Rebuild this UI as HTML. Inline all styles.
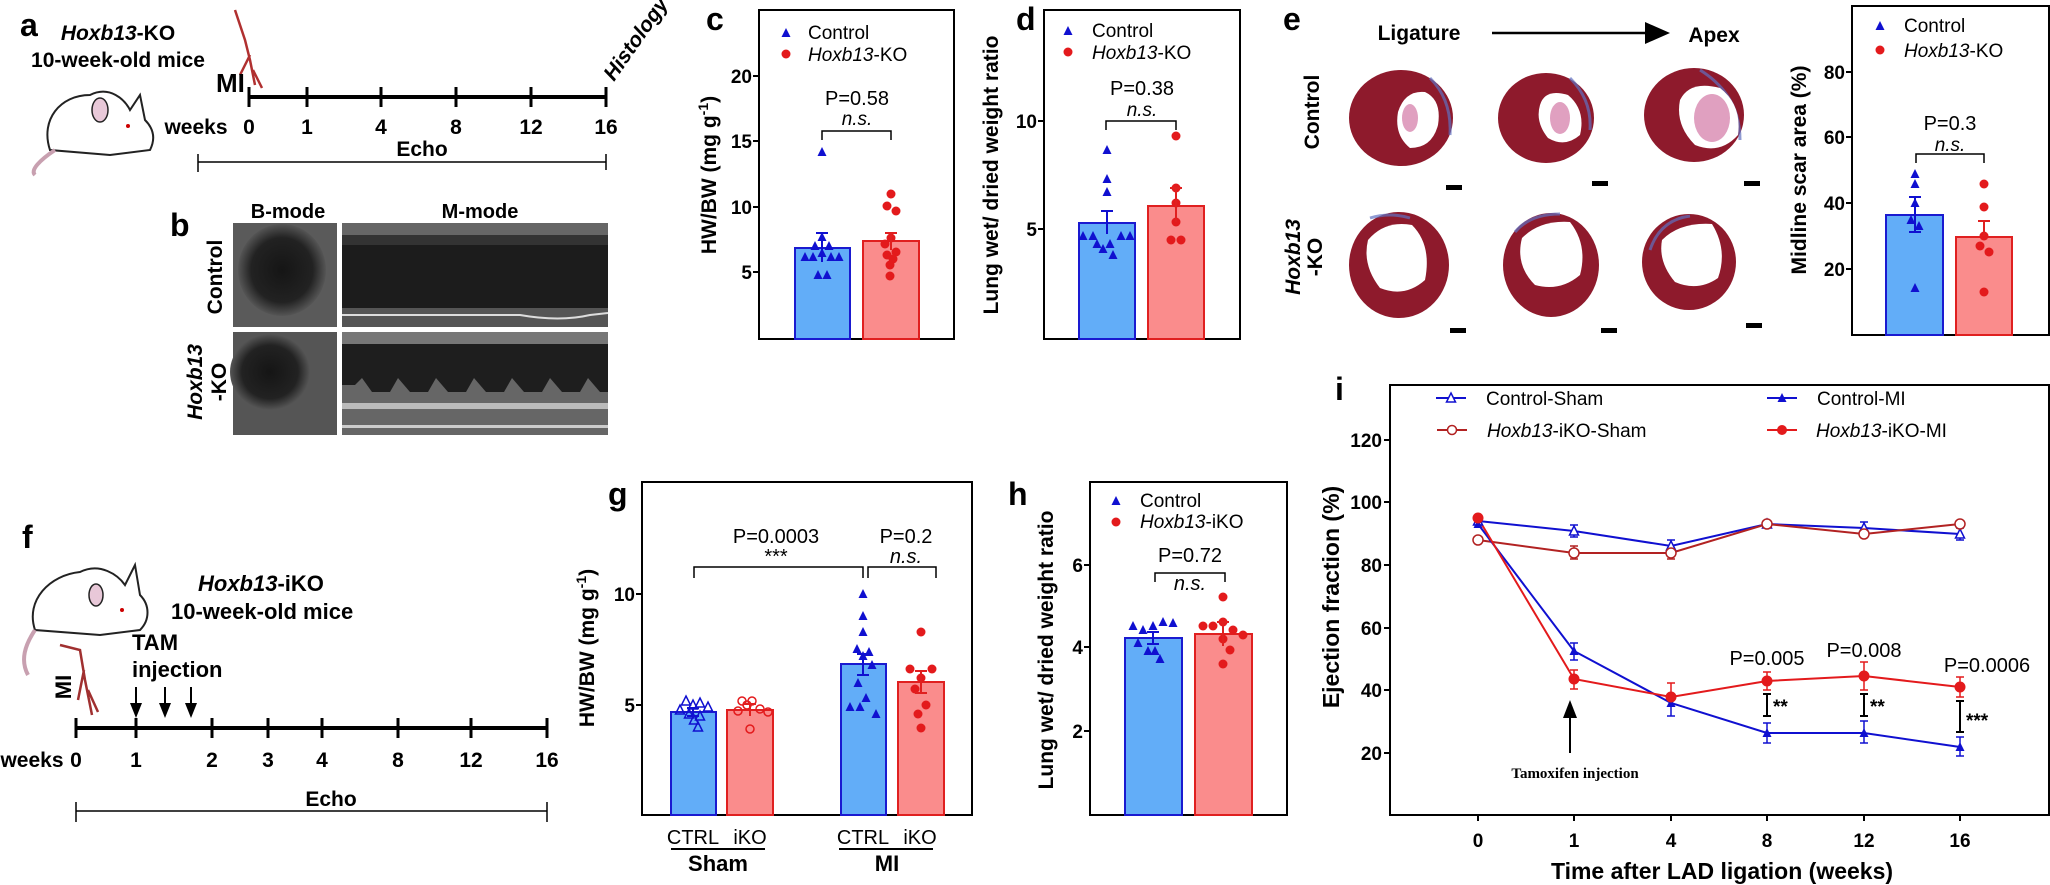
<!DOCTYPE html>
<html><head><meta charset="utf-8"><style>
html,body{margin:0;padding:0;background:#fff}
svg{display:block}
.t{font-family:"Liberation Sans Narrow","Liberation Sans",sans-serif;font-weight:bold;font-size:19px}
.n{font-family:"Liberation Sans Narrow","Liberation Sans",sans-serif;font-size:20px}
.lab{font-family:"Liberation Sans",sans-serif;font-weight:bold;font-size:21px}
.big{font-family:"Liberation Sans",sans-serif;font-weight:bold;font-size:32px}
.leg{font-family:"Liberation Sans",sans-serif;font-size:19px}
</style></head><body>
<svg width="2050" height="885" viewBox="0 0 2050 885" xmlns="http://www.w3.org/2000/svg">
<defs>
<path id="tr" d="M0,-5 L4.5,4 L-4.5,4Z"/>
<radialGradient id="bm"><stop offset="0" stop-color="#151515"/><stop offset="0.7" stop-color="#222"/><stop offset="1" stop-color="#555"/></radialGradient>
</defs>
<rect width="2050" height="885" fill="#fff"/>

<!-- Panel a -->
<text x="20" y="36" class="big">a</text>
<text x="118" y="40" class="lab" text-anchor="middle"><tspan font-style="italic">Hoxb13</tspan>-KO</text>
<text x="118" y="67" class="lab" text-anchor="middle">10-week-old mice</text>
<g fill="#fff" stroke="#222" stroke-width="2">
<path d="M50,150 C40,120 60,95 90,95 C110,85 125,100 130,110 L140,95 L145,120 C155,130 155,140 150,150 L110,155 Z"/>
</g>
<path d="M55,150 C40,160 30,170 35,175" fill="none" stroke="#c8a0b0" stroke-width="4"/>
<ellipse cx="100" cy="110" rx="8" ry="12" fill="#e8c8d8" stroke="#222" stroke-width="1.5"/>
<circle cx="128" cy="126" r="2" fill="#c00"/>
<path d="M235,10 L245,40 L250,60 L255,85 M250,55 L240,75 M253,70 L262,88" stroke="#b03030" stroke-width="2.5" fill="none"/>
<text x="216" y="92" class="lab" style="font-size:26px">MI</text>
<line x1="249" y1="97" x2="606" y2="97" stroke="#000" stroke-width="4"/>
<g stroke="#000" stroke-width="3">
<line x1="249" y1="87" x2="249" y2="107"/><line x1="307" y1="87" x2="307" y2="107"/><line x1="381" y1="87" x2="381" y2="107"/><line x1="456" y1="87" x2="456" y2="107"/><line x1="531" y1="87" x2="531" y2="107"/><line x1="606" y1="87" x2="606" y2="107"/>
</g>
<g class="t" text-anchor="middle" style="font-size:21px">
<text x="196" y="134">weeks</text><text x="249" y="134">0</text><text x="307" y="134">1</text><text x="381" y="134">4</text><text x="456" y="134">8</text><text x="531" y="134">12</text><text x="606" y="134">16</text>
<text x="422" y="156">Echo</text>
</g>
<text transform="translate(614,82) rotate(-55)" class="t" style="font-size:21px;font-style:italic">Histology</text>
<g stroke="#000" stroke-width="1.5"><line x1="198" y1="162" x2="606" y2="162"/><line x1="198" y1="154" x2="198" y2="172"/><line x1="606" y1="154" x2="606" y2="170"/></g>

<!-- Panel b -->
<text x="170" y="236" class="big">b</text>
<text x="288" y="218" class="t" text-anchor="middle" style="font-size:20px">B-mode</text>
<text x="480" y="218" class="t" text-anchor="middle" style="font-size:20px">M-mode</text>
<rect x="233" y="223" width="104" height="104" fill="#5a5a5a"/>
<ellipse cx="282" cy="270" rx="44" ry="46" fill="url(#bm)"/>
<rect x="342" y="223" width="266" height="104" fill="#1c1c1c"/>
<rect x="342" y="223" width="266" height="12" fill="#666"/>
<rect x="342" y="235" width="266" height="10" fill="#333"/>
<rect x="342" y="308" width="266" height="19" fill="#555"/>
<path d="M342,315 L520,315 Q560,322 590,315 L608,313" stroke="#ddd" stroke-width="2" fill="none"/>
<rect x="233" y="332" width="104" height="103" fill="#555"/>
<ellipse cx="270" cy="372" rx="40" ry="38" fill="url(#bm)"/>
<rect x="342" y="332" width="266" height="103" fill="#1e1e1e"/>
<rect x="342" y="332" width="266" height="12" fill="#777"/>
<path d="M342,385 L355,385 L362,378 L372,392 L390,392 L398,378 L410,392 L428,392 L436,378 L448,392 L466,392 L474,378 L486,392 L504,392 L512,378 L524,392 L542,392 L550,378 L562,392 L580,392 L588,378 L600,392 L608,392 L608,435 L342,435Z" fill="#666"/>
<rect x="342" y="403" width="266" height="6" fill="#bbb"/>
<rect x="342" y="425" width="266" height="3" fill="#ccc"/>
<text transform="translate(222,277) rotate(-90)" class="lab" text-anchor="middle">Control</text>
<text transform="translate(202,382) rotate(-90)" class="lab" text-anchor="middle" font-style="italic">Hoxb13</text>
<text transform="translate(226,382) rotate(-90)" class="lab" text-anchor="middle">-KO</text>

<!-- Panel c -->
<text x="706" y="30" class="big">c</text>
<rect x="759" y="10" width="195" height="329" fill="none" stroke="#000" stroke-width="2"/>
<g stroke="#000" stroke-width="2"><line x1="753" y1="76" x2="759" y2="76"/><line x1="753" y1="141" x2="759" y2="141"/><line x1="753" y1="207" x2="759" y2="207"/><line x1="753" y1="272" x2="759" y2="272"/></g>
<g class="t" text-anchor="end"><text x="752" y="83">20</text><text x="752" y="148">15</text><text x="752" y="214">10</text><text x="752" y="279">5</text></g>
<text transform="translate(716,175) rotate(-90)" class="lab" text-anchor="middle">HW/BW (mg g<tspan dy="-8" font-size="14">-1</tspan><tspan dy="8">)</tspan></text>
<rect x="795" y="248" width="55" height="91" fill="#62adf8" stroke="#1a1ad0" stroke-width="2"/>
<rect x="863" y="241" width="56" height="98" fill="#fa8c8c" stroke="#e02020" stroke-width="2"/>
<g fill="#1010d0"><use href="#tr" x="786" y="33"/>
<use href="#tr" x="822" y="152"/><use href="#tr" x="822" y="237"/><use href="#tr" x="815" y="246"/><use href="#tr" x="829" y="246"/><use href="#tr" x="822" y="253"/><use href="#tr" x="805" y="257"/><use href="#tr" x="813" y="257"/><use href="#tr" x="831" y="257"/><use href="#tr" x="839" y="257"/><use href="#tr" x="818" y="275"/><use href="#tr" x="827" y="275"/></g>
<g stroke="#1010d0" stroke-width="2"><line x1="822" y1="233" x2="822" y2="262"/><line x1="816" y1="233" x2="828" y2="233"/></g>
<g fill="#e31a1c"><circle cx="786" cy="54" r="4.5"/>
<circle cx="891" cy="194" r="4.5"/><circle cx="887" cy="206" r="4.5"/><circle cx="896" cy="211" r="4.5"/><circle cx="891" cy="238" r="4.5"/><circle cx="885" cy="244" r="4.5"/><circle cx="896" cy="252" r="4.5"/><circle cx="887" cy="255" r="4.5"/><circle cx="893" cy="259" r="4.5"/><circle cx="890" cy="265" r="4.5"/><circle cx="890" cy="276" r="4.5"/></g>
<g stroke="#e02020" stroke-width="2"><line x1="891" y1="233" x2="891" y2="250"/><line x1="885" y1="233" x2="897" y2="233"/></g>
<text x="808" y="39" class="leg">Control</text>
<text x="808" y="61" class="leg"><tspan font-style="italic">Hoxb13</tspan>-KO</text>
<text x="857" y="105" class="leg" text-anchor="middle" style="font-size:20px">P=0.58</text>
<text x="857" y="125" class="leg" text-anchor="middle" font-style="italic">n.s.</text>
<path d="M822,140 V131 H891 V140" fill="none" stroke="#000" stroke-width="1.5"/>

<!-- Panel d -->
<text x="1016" y="30" class="big">d</text>
<rect x="1044" y="10" width="196" height="329" fill="none" stroke="#000" stroke-width="2"/>
<g stroke="#000" stroke-width="2"><line x1="1038" y1="121" x2="1044" y2="121"/><line x1="1038" y1="229" x2="1044" y2="229"/></g>
<g class="t" text-anchor="end"><text x="1037" y="128">10</text><text x="1037" y="236">5</text></g>
<text transform="translate(998,175) rotate(-90)" class="lab" text-anchor="middle">Lung wet/ dried weight ratio</text>
<rect x="1079" y="223" width="56" height="116" fill="#62adf8" stroke="#1a1ad0" stroke-width="2"/>
<rect x="1148" y="206" width="56" height="133" fill="#fa8c8c" stroke="#e02020" stroke-width="2"/>
<g fill="#1010d0"><use href="#tr" x="1068" y="31"/>
<use href="#tr" x="1107" y="150"/><use href="#tr" x="1107" y="179"/><use href="#tr" x="1107" y="192"/><use href="#tr" x="1083" y="236"/><use href="#tr" x="1093" y="236"/><use href="#tr" x="1121" y="236"/><use href="#tr" x="1130" y="236"/><use href="#tr" x="1097" y="244"/><use href="#tr" x="1110" y="244"/><use href="#tr" x="1103" y="249"/><use href="#tr" x="1113" y="255"/></g>
<g stroke="#1010d0" stroke-width="2"><line x1="1107" y1="211" x2="1107" y2="234"/><line x1="1101" y1="211" x2="1113" y2="211"/></g>
<g fill="#e31a1c"><circle cx="1068" cy="52" r="4.5"/>
<circle cx="1176" cy="136" r="4.5"/><circle cx="1176" cy="188" r="4.5"/><circle cx="1176" cy="203" r="4.5"/><circle cx="1176" cy="222" r="4.5"/><circle cx="1171" cy="240" r="4.5"/><circle cx="1181" cy="240" r="4.5"/></g>
<g stroke="#e02020" stroke-width="2"><line x1="1176" y1="188" x2="1176" y2="222"/><line x1="1170" y1="188" x2="1182" y2="188"/></g>
<text x="1092" y="37" class="leg">Control</text>
<text x="1092" y="59" class="leg"><tspan font-style="italic">Hoxb13</tspan>-KO</text>
<text x="1142" y="95" class="leg" text-anchor="middle" style="font-size:20px">P=0.38</text>
<text x="1142" y="116" class="leg" text-anchor="middle" font-style="italic">n.s.</text>
<path d="M1106,130 V121 H1176 V130" fill="none" stroke="#000" stroke-width="1.5"/>

<!-- Panel e -->
<text x="1283" y="30" class="big">e</text>
<text x="1419" y="40" class="lab" text-anchor="middle">Ligature</text>
<line x1="1492" y1="33" x2="1650" y2="33" stroke="#000" stroke-width="2.5"/>
<path d="M1645,22 L1670,33 L1645,44 Z" fill="#000"/>
<text x="1714" y="42" class="lab" text-anchor="middle">Apex</text>
<text transform="translate(1319,112) rotate(-90)" class="lab" text-anchor="middle">Control</text>
<text transform="translate(1300,257) rotate(-90)" class="lab" text-anchor="middle" font-style="italic">Hoxb13</text>
<text transform="translate(1322,257) rotate(-90)" class="lab" text-anchor="middle">-KO</text>
<g fill="#8e1a2c">
<ellipse cx="1401" cy="118" rx="52" ry="48"/><ellipse cx="1546" cy="118" rx="48" ry="45"/><ellipse cx="1694" cy="115" rx="50" ry="47"/>
<ellipse cx="1399" cy="265" rx="50" ry="53"/><ellipse cx="1551" cy="265" rx="48" ry="52"/><ellipse cx="1689" cy="262" rx="47" ry="48"/>
</g>
<g fill="none" stroke="#6070c0" stroke-width="3" opacity="0.7">
<path d="M1430,78 Q1452,100 1450,135"/><path d="M1570,78 Q1592,100 1590,130"/><path d="M1700,70 Q1740,95 1740,140"/>
<path d="M1370,218 Q1390,212 1410,218"/><path d="M1515,232 Q1530,214 1560,214"/><path d="M1650,250 Q1660,220 1690,216"/>
</g>
<g fill="#fff">
<path d="M1398,112 Q1405,90 1425,92 Q1442,100 1438,125 Q1432,148 1410,148 Q1394,135 1398,112Z"/>
<path d="M1540,105 Q1545,88 1568,95 Q1586,110 1580,135 Q1565,148 1548,138 Q1535,122 1540,105Z"/>
<path d="M1680,100 Q1690,80 1720,88 Q1742,105 1738,135 Q1720,155 1695,145 Q1675,125 1680,100Z"/>
<path d="M1368,240 Q1385,220 1412,225 Q1432,245 1425,280 Q1405,298 1380,288 Q1362,265 1368,240Z"/>
<path d="M1522,238 Q1540,220 1570,222 Q1588,245 1580,275 Q1560,292 1535,285 Q1515,265 1522,238Z"/>
<path d="M1662,240 Q1680,222 1712,224 Q1728,250 1718,278 Q1698,292 1675,282 Q1658,262 1662,240Z"/>
</g>
<g fill="#e0a0c0"><ellipse cx="1410" cy="118" rx="8" ry="14"/><ellipse cx="1560" cy="118" rx="10" ry="16"/><ellipse cx="1712" cy="118" rx="18" ry="24"/></g>
<g fill="#000"><rect x="1446" y="185" width="16" height="5"/><rect x="1592" y="181" width="16" height="5"/><rect x="1744" y="181" width="16" height="5"/><rect x="1450" y="328" width="16" height="5"/><rect x="1601" y="328" width="16" height="5"/><rect x="1746" y="323" width="16" height="5"/></g>
<!-- e chart -->
<rect x="1852" y="6" width="197" height="329" fill="none" stroke="#000" stroke-width="2"/>
<g stroke="#000" stroke-width="2"><line x1="1846" y1="72" x2="1852" y2="72"/><line x1="1846" y1="137" x2="1852" y2="137"/><line x1="1846" y1="203" x2="1852" y2="203"/><line x1="1846" y1="269" x2="1852" y2="269"/></g>
<g class="t" text-anchor="end"><text x="1845" y="79">80</text><text x="1845" y="144">60</text><text x="1845" y="210">40</text><text x="1845" y="276">20</text></g>
<text transform="translate(1806,170) rotate(-90)" class="lab" text-anchor="middle">Midline scar area (%)</text>
<rect x="1886" y="215" width="57" height="120" fill="#62adf8" stroke="#1a1ad0" stroke-width="2"/>
<rect x="1956" y="237" width="56" height="98" fill="#fa8c8c" stroke="#e02020" stroke-width="2"/>
<g fill="#1010d0"><use href="#tr" x="1880" y="26"/>
<use href="#tr" x="1915" y="174"/><use href="#tr" x="1915" y="184"/><use href="#tr" x="1915" y="203"/><use href="#tr" x="1911" y="220"/><use href="#tr" x="1919" y="226"/><use href="#tr" x="1915" y="288"/></g>
<g stroke="#1010d0" stroke-width="2"><line x1="1915" y1="197" x2="1915" y2="232"/><line x1="1909" y1="197" x2="1921" y2="197"/><line x1="1909" y1="232" x2="1921" y2="232"/></g>
<g fill="#e31a1c"><circle cx="1880" cy="50" r="4.5"/>
<circle cx="1984" cy="184" r="4.5"/><circle cx="1984" cy="207" r="4.5"/><circle cx="1984" cy="236" r="4.5"/><circle cx="1980" cy="246" r="4.5"/><circle cx="1989" cy="252" r="4.5"/><circle cx="1984" cy="292" r="4.5"/></g>
<g stroke="#e02020" stroke-width="2"><line x1="1984" y1="221" x2="1984" y2="236"/><line x1="1978" y1="221" x2="1990" y2="221"/></g>
<text x="1904" y="32" class="leg">Control</text>
<text x="1904" y="57" class="leg"><tspan font-style="italic">Hoxb13</tspan>-KO</text>
<text x="1950" y="130" class="leg" text-anchor="middle" style="font-size:20px">P=0.3</text>
<text x="1950" y="151" class="leg" text-anchor="middle" font-style="italic">n.s.</text>
<path d="M1916,163 V154 H1984 V163" fill="none" stroke="#000" stroke-width="1.5"/>

<!-- Panel f -->
<text x="22" y="548" class="big">f</text>
<g fill="#fff" stroke="#222" stroke-width="2">
<path d="M35,630 C25,600 50,575 80,572 C100,562 118,575 125,585 L135,565 L140,595 C150,605 150,620 140,630 L100,635 Z"/>
</g>
<path d="M35,630 C25,645 20,660 28,675" fill="none" stroke="#c8a0b0" stroke-width="4"/>
<ellipse cx="96" cy="595" rx="7" ry="11" fill="#e8c8d8" stroke="#222" stroke-width="1.5"/>
<circle cx="122" cy="610" r="2" fill="#c00"/>
<path d="M60,645 L80,650 L85,680 L92,715 M84,670 L78,700 M88,690 L98,712" stroke="#a03030" stroke-width="2.5" fill="none"/>
<text x="198" y="591" class="t" style="font-size:22px;font-style:italic">Hoxb13<tspan font-style="normal">-iKO</tspan></text>
<text x="171" y="619" class="t" style="font-size:22px">10-week-old mice</text>
<text x="132" y="650" class="t" style="font-size:22px">TAM</text>
<text x="132" y="677" class="t" style="font-size:22px">injection</text>
<text transform="translate(71,687) rotate(-90)" class="t" text-anchor="middle" style="font-size:22px">MI</text>
<g stroke="#000" stroke-width="2"><line x1="136" y1="687" x2="136" y2="705"/><line x1="165" y1="687" x2="165" y2="705"/><line x1="191" y1="687" x2="191" y2="705"/></g>
<g fill="#000"><path d="M130,703 L142,703 L136,718Z"/><path d="M159,703 L171,703 L165,718Z"/><path d="M185,703 L197,703 L191,718Z"/></g>
<line x1="76" y1="728" x2="547" y2="728" stroke="#000" stroke-width="4"/>
<g stroke="#000" stroke-width="3"><line x1="76" y1="718" x2="76" y2="738"/><line x1="136" y1="718" x2="136" y2="738"/><line x1="212" y1="718" x2="212" y2="738"/><line x1="268" y1="718" x2="268" y2="738"/><line x1="322" y1="718" x2="322" y2="738"/><line x1="398" y1="718" x2="398" y2="738"/><line x1="471" y1="718" x2="471" y2="738"/><line x1="547" y1="718" x2="547" y2="738"/></g>
<g class="t" text-anchor="middle" style="font-size:21px"><text x="32" y="767">weeks</text><text x="76" y="767">0</text><text x="136" y="767">1</text><text x="212" y="767">2</text><text x="268" y="767">3</text><text x="322" y="767">4</text><text x="398" y="767">8</text><text x="471" y="767">12</text><text x="547" y="767">16</text>
<text x="331" y="806">Echo</text></g>
<g stroke="#000" stroke-width="1.5"><line x1="76" y1="811" x2="547" y2="811"/><line x1="76" y1="802" x2="76" y2="822"/><line x1="547" y1="802" x2="547" y2="822"/></g>

<!-- Panel g -->
<text x="608" y="505" class="big">g</text>
<rect x="642" y="482" width="330" height="333" fill="none" stroke="#000" stroke-width="2"/>
<g stroke="#000" stroke-width="2"><line x1="636" y1="594" x2="642" y2="594"/><line x1="636" y1="705" x2="642" y2="705"/></g>
<g class="t" text-anchor="end"><text x="635" y="601">10</text><text x="635" y="712">5</text></g>
<text transform="translate(594,648) rotate(-90)" class="lab" text-anchor="middle">HW/BW (mg g<tspan dy="-8" font-size="14">-1</tspan><tspan dy="8">)</tspan></text>
<rect x="671" y="712" width="45" height="103" fill="#62adf8" stroke="#1a1ad0" stroke-width="2"/>
<rect x="727" y="710" width="46" height="105" fill="#fa8c8c" stroke="#e02020" stroke-width="2"/>
<rect x="841" y="664" width="45" height="151" fill="#62adf8" stroke="#1a1ad0" stroke-width="2"/>
<rect x="898" y="682" width="46" height="133" fill="#fa8c8c" stroke="#e02020" stroke-width="2"/>
<g fill="none" stroke="#1010d0" stroke-width="1.5">
<use href="#tr" x="686" y="701"/><use href="#tr" x="700" y="703"/><use href="#tr" x="693" y="705"/><use href="#tr" x="708" y="707"/><use href="#tr" x="680" y="710"/><use href="#tr" x="689" y="714"/><use href="#tr" x="700" y="716"/><use href="#tr" x="694" y="720"/><use href="#tr" x="698" y="727"/></g>
<g fill="none" stroke="#e31a1c" stroke-width="1.5">
<circle cx="742" cy="701" r="4"/><circle cx="752" cy="701" r="4"/><circle cx="747" cy="705" r="4"/><circle cx="760" cy="709" r="4"/><circle cx="738" cy="711" r="4"/><circle cx="768" cy="712" r="4"/><circle cx="750" cy="729" r="4"/></g>
<g fill="#1010d0"><use href="#tr" x="863" y="594"/><use href="#tr" x="863" y="616"/><use href="#tr" x="863" y="632"/><use href="#tr" x="857" y="649"/><use href="#tr" x="869" y="652"/><use href="#tr" x="863" y="656"/><use href="#tr" x="872" y="665"/><use href="#tr" x="858" y="683"/><use href="#tr" x="866" y="698"/><use href="#tr" x="850" y="707"/><use href="#tr" x="860" y="707"/><use href="#tr" x="876" y="714"/></g>
<g fill="#e31a1c"><circle cx="921" cy="632" r="4.5"/><circle cx="910" cy="669" r="4.5"/><circle cx="932" cy="669" r="4.5"/><circle cx="921" cy="678" r="4.5"/><circle cx="915" cy="689" r="4.5"/><circle cx="926" cy="705" r="4.5"/><circle cx="918" cy="714" r="4.5"/><circle cx="921" cy="728" r="4.5"/></g>
<g stroke-width="2"><path d="M693,708 V716 M687,708 H699 M687,716 H699" stroke="#1010d0"/><path d="M750,704 V716 M744,704 H756" stroke="#e02020"/>
<path d="M863,654 V675 M857,654 H869 M857,675 H869" stroke="#1010d0"/><path d="M921,671 V693 M915,671 H927 M915,693 H927" stroke="#e02020"/></g>
<text x="776" y="543" class="n" text-anchor="middle">P=0.0003</text>
<text x="776" y="563" class="n" text-anchor="middle">***</text>
<path d="M694,578 V567 H863 V578" fill="none" stroke="#000" stroke-width="1.5"/>
<text x="906" y="543" class="n" text-anchor="middle">P=0.2</text>
<text x="906" y="563" class="n" text-anchor="middle" font-style="italic">n.s.</text>
<path d="M868,578 V567 H936 V578" fill="none" stroke="#000" stroke-width="1.5"/>
<g class="n" text-anchor="middle"><text x="693" y="844">CTRL</text><text x="750" y="844">iKO</text><text x="863" y="844">CTRL</text><text x="920" y="844">iKO</text></g>
<g stroke="#000" stroke-width="2"><line x1="671" y1="849" x2="765" y2="849"/><line x1="839" y1="849" x2="933" y2="849"/></g>
<g class="t" text-anchor="middle" style="font-size:22px"><text x="718" y="871">Sham</text><text x="887" y="871">MI</text></g>

<!-- Panel h -->
<text x="1008" y="505" class="big">h</text>
<rect x="1090" y="482" width="197" height="333" fill="none" stroke="#000" stroke-width="2"/>
<g stroke="#000" stroke-width="2"><line x1="1084" y1="565" x2="1090" y2="565"/><line x1="1084" y1="647" x2="1090" y2="647"/><line x1="1084" y1="731" x2="1090" y2="731"/></g>
<g class="t" text-anchor="end"><text x="1083" y="572">6</text><text x="1083" y="654">4</text><text x="1083" y="738">2</text></g>
<text transform="translate(1053,650) rotate(-90)" class="lab" text-anchor="middle">Lung wet/ dried weight ratio</text>
<rect x="1125" y="638" width="57" height="177" fill="#62adf8" stroke="#1a1ad0" stroke-width="2"/>
<rect x="1195" y="634" width="57" height="181" fill="#fa8c8c" stroke="#e02020" stroke-width="2"/>
<g fill="#1010d0"><use href="#tr" x="1116" y="501"/>
<use href="#tr" x="1163" y="622"/><use href="#tr" x="1173" y="623"/><use href="#tr" x="1133" y="626"/><use href="#tr" x="1143" y="630"/><use href="#tr" x="1153" y="626"/><use href="#tr" x="1138" y="643"/><use href="#tr" x="1148" y="651"/><use href="#tr" x="1155" y="651"/><use href="#tr" x="1160" y="659"/></g>
<g stroke="#1010d0" stroke-width="2"><path d="M1153,632 V644 M1147,632 H1159 M1147,644 H1159"/></g>
<g fill="#e31a1c"><circle cx="1116" cy="522" r="4.5"/>
<circle cx="1223" cy="597" r="4.5"/><circle cx="1223" cy="622" r="4.5"/><circle cx="1203" cy="626" r="4.5"/><circle cx="1213" cy="626" r="4.5"/><circle cx="1233" cy="630" r="4.5"/><circle cx="1243" cy="635" r="4.5"/><circle cx="1223" cy="639" r="4.5"/><circle cx="1230" cy="650" r="4.5"/><circle cx="1223" cy="664" r="4.5"/></g>
<g stroke="#e02020" stroke-width="2"><path d="M1223,622 V646 M1217,622 H1229"/></g>
<text x="1140" y="507" class="leg">Control</text>
<text x="1140" y="528" class="leg"><tspan font-style="italic">Hoxb13</tspan>-iKO</text>
<text x="1190" y="562" class="n" text-anchor="middle">P=0.72</text>
<path d="M1155,582 V573 H1225 V582" fill="none" stroke="#000" stroke-width="1.5"/>
<text x="1190" y="590" class="n" text-anchor="middle" font-style="italic">n.s.</text>

<!-- Panel i -->
<text x="1335" y="400" class="big">i</text>
<rect x="1390" y="385" width="659" height="430" fill="none" stroke="#000" stroke-width="2"/>
<g stroke="#000" stroke-width="2"><line x1="1384" y1="440" x2="1390" y2="440"/><line x1="1384" y1="502" x2="1390" y2="502"/><line x1="1384" y1="565" x2="1390" y2="565"/><line x1="1384" y1="628" x2="1390" y2="628"/><line x1="1384" y1="690" x2="1390" y2="690"/><line x1="1384" y1="753" x2="1390" y2="753"/>
<line x1="1478" y1="815" x2="1478" y2="821"/><line x1="1574" y1="815" x2="1574" y2="821"/><line x1="1671" y1="815" x2="1671" y2="821"/><line x1="1767" y1="815" x2="1767" y2="821"/><line x1="1864" y1="815" x2="1864" y2="821"/><line x1="1960" y1="815" x2="1960" y2="821"/></g>
<g class="t" text-anchor="end"><text x="1382" y="447">120</text><text x="1382" y="509">100</text><text x="1382" y="572">80</text><text x="1382" y="635">60</text><text x="1382" y="697">40</text><text x="1382" y="760">20</text></g>
<g class="t" text-anchor="middle"><text x="1478" y="847">0</text><text x="1574" y="847">1</text><text x="1671" y="847">4</text><text x="1767" y="847">8</text><text x="1864" y="847">12</text><text x="1960" y="847">16</text></g>
<text x="1722" y="879" class="t" text-anchor="middle" style="font-size:23px">Time after LAD ligation (weeks)</text>
<text transform="translate(1339,597) rotate(-90)" class="lab" text-anchor="middle" style="font-size:23px">Ejection fraction (%)</text>
<line x1="1436" y1="398" x2="1466" y2="398" stroke="#1010d0" stroke-width="2"/><use href="#tr" x="1451" y="398" fill="#fff" stroke="#1010d0" stroke-width="1.5"/>
<text x="1486" y="405" class="leg">Control-Sham</text>
<line x1="1767" y1="398" x2="1797" y2="398" stroke="#1010d0" stroke-width="2"/><use href="#tr" x="1782" y="398" fill="#1010d0"/>
<text x="1817" y="405" class="leg">Control-MI</text>
<line x1="1437" y1="430" x2="1467" y2="430" stroke="#b22222" stroke-width="2"/><circle cx="1452" cy="430" r="4.5" fill="#fff" stroke="#b22222" stroke-width="1.5"/>
<text x="1487" y="437" class="leg"><tspan font-style="italic">Hoxb13</tspan>-iKO-Sham</text>
<line x1="1767" y1="430" x2="1797" y2="430" stroke="#e31a1c" stroke-width="2"/><circle cx="1782" cy="430" r="5" fill="#e31a1c"/>
<text x="1816" y="437" class="leg"><tspan font-style="italic">Hoxb13</tspan>-iKO-MI</text>
<g stroke-width="1.5" fill="none">
<path stroke="#1010d0" d="M1574,525 V537 M1570,525 H1578 M1570,537 H1578 M1671,540 V553 M1667,540 H1675 M1960,528 V540 M1956,528 H1964 M1956,540 H1964 M1864,522 V533 M1860,522 H1868"/>
<path stroke="#b22222" d="M1574,546 V559 M1570,546 H1578 M1570,559 H1578 M1671,546 V559 M1667,559 H1675"/>
<path stroke="#1010d0" d="M1574,643 V660 M1570,643 H1578 M1570,660 H1578 M1671,692 V716 M1667,716 H1675 M1767,723 V743 M1763,723 H1771 M1763,743 H1771 M1864,721 V743 M1860,721 H1868 M1860,743 H1868 M1960,737 V756 M1956,737 H1964 M1956,756 H1964"/>
<path stroke="#e31a1c" d="M1574,670 V689 M1570,670 H1578 M1570,689 H1578 M1671,683 V697 M1667,683 H1675 M1767,672 V690 M1763,672 H1771 M1763,690 H1771 M1864,662 V690 M1860,662 H1868 M1860,690 H1868 M1960,677 V697 M1956,677 H1964 M1956,697 H1964"/>
</g>
<polyline fill="none" stroke="#1010d0" stroke-width="2" points="1478,521 1574,531 1671,546 1767,524 1864,528 1960,534"/>
<polyline fill="none" stroke="#b22222" stroke-width="2" points="1478,540 1574,553 1671,553 1767,524 1864,534 1960,524"/>
<polyline fill="none" stroke="#1010d0" stroke-width="2" points="1478,524 1574,651 1671,703 1767,733 1864,733 1960,747"/>
<polyline fill="none" stroke="#e31a1c" stroke-width="2" points="1478,518 1574,679 1671,697 1767,681 1864,676 1960,687"/>
<g fill="#fff" stroke="#1010d0" stroke-width="1.5"><use href="#tr" x="1478" y="521"/><use href="#tr" x="1574" y="531"/><use href="#tr" x="1671" y="546"/><use href="#tr" x="1767" y="524"/><use href="#tr" x="1864" y="528"/><use href="#tr" x="1960" y="534"/></g>
<g fill="#fff" stroke="#b22222" stroke-width="1.5"><circle cx="1478" cy="540" r="5"/><circle cx="1574" cy="553" r="5"/><circle cx="1671" cy="553" r="5"/><circle cx="1767" cy="524" r="5"/><circle cx="1864" cy="534" r="5"/><circle cx="1960" cy="524" r="5"/></g>
<g fill="#1010d0"><use href="#tr" x="1478" y="524"/><use href="#tr" x="1574" y="651"/><use href="#tr" x="1671" y="703"/><use href="#tr" x="1767" y="733"/><use href="#tr" x="1864" y="733"/><use href="#tr" x="1960" y="747"/></g>
<g fill="#e31a1c"><circle cx="1478" cy="518" r="5.5"/><circle cx="1574" cy="679" r="5.5"/><circle cx="1671" cy="697" r="5.5"/><circle cx="1767" cy="681" r="5.5"/><circle cx="1864" cy="676" r="5.5"/><circle cx="1960" cy="687" r="5.5"/></g>
<text x="1767" y="665" class="n" text-anchor="middle">P=0.005</text>
<text x="1864" y="657" class="n" text-anchor="middle">P=0.008</text>
<text x="1987" y="672" class="n" text-anchor="middle">P=0.0006</text>
<g stroke="#000" stroke-width="2" fill="none"><path d="M1767,694 V716 M1763,694 H1771 M1763,716 H1771 M1864,694 V716 M1860,694 H1868 M1860,716 H1868 M1960,701 V732 M1956,701 H1964 M1956,732 H1964"/></g>
<g class="t"><text x="1773" y="713">**</text><text x="1870" y="713">**</text><text x="1966" y="727">***</text></g>
<line x1="1570" y1="753" x2="1570" y2="712" stroke="#000" stroke-width="2"/>
<path d="M1563,718 L1570,700 L1577,718 Z" fill="#000"/>
<text x="1575" y="778" text-anchor="middle" style="font-family:'Liberation Serif',serif;font-weight:bold;font-size:15px">Tamoxifen injection</text>
</svg>
</body></html>
